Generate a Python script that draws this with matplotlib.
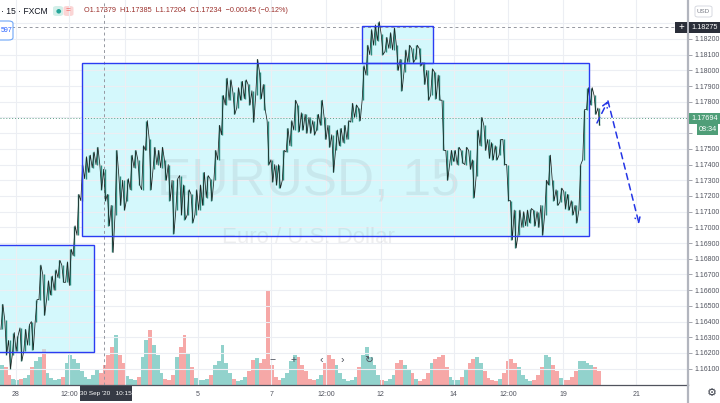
import numpy as np
import matplotlib
matplotlib.use('Agg')
import matplotlib.pyplot as plt
import matplotlib.transforms as mtransforms
from matplotlib.patches import Rectangle, FancyBboxPatch

plt.rcParams['font.family'] = ['Liberation Sans', 'DejaVu Sans']

# EURUSD 15m, FXCM. One column = 10 bars (2.5 h), high/low
BARS_PER_COL = 10

high = [1.1651, 1.1641, 1.1628, 1.1633, 1.1631, 1.1636, 1.1635, 1.1638, 1.1640, 1.1654,
        1.1676, 1.1670, 1.1666, 1.1669, 1.1673, 1.1679, 1.1676, 1.1678, 1.1686, 1.1701,
        1.1721, 1.1740, 1.1745, 1.1746, 1.1748, 1.1751, 1.1740, 1.1737, 1.1721, 1.1714,
        1.1749, 1.1733, 1.1730, 1.1731, 1.1746, 1.1749, 1.1743, 1.1752, 1.1768, 1.1756,
        1.1751, 1.1749, 1.1751, 1.1743, 1.1740, 1.1730, 1.1731, 1.1733, 1.1727, 1.1724,
        1.1721, 1.1724, 1.1727, 1.1735, 1.1733, 1.1731, 1.1749, 1.1765, 1.1784, 1.1795,
        1.1794, 1.1786, 1.1789, 1.1793, 1.1794, 1.1791, 1.1787, 1.1807, 1.1799, 1.1791,
        1.1768, 1.1743, 1.1740, 1.1740, 1.1749, 1.1763, 1.1768, 1.1781, 1.1778, 1.1773,
        1.1772, 1.1770, 1.1768, 1.1772, 1.1781, 1.1770, 1.1765, 1.1759, 1.1762, 1.1763,
        1.1765, 1.1768, 1.1779, 1.1778, 1.1776, 1.1803, 1.1816, 1.1826, 1.1829, 1.1831,
        1.1823, 1.1821, 1.1824, 1.1827, 1.1816, 1.1807, 1.1813, 1.1816, 1.1814, 1.1816,
        1.1814, 1.1805, 1.1800, 1.1801, 1.1799, 1.1797, 1.1781, 1.1749, 1.1749, 1.1749,
        1.1751, 1.1749, 1.1751, 1.1749, 1.1743, 1.1762, 1.1770, 1.1765, 1.1756, 1.1754,
        1.1752, 1.1756, 1.1756, 1.1740, 1.1717, 1.1711, 1.1711, 1.1710, 1.1711, 1.1712,
        1.1711, 1.1710, 1.1714, 1.1730, 1.1746, 1.1730, 1.1724, 1.1725, 1.1723, 1.1721,
        1.1717, 1.1714, 1.1740, 1.1775, 1.1789, 1.1789, 1.1784, 1.1776]

low = [1.1635, 1.1619, 1.1610, 1.1619, 1.1621, 1.1615, 1.1621, 1.1625, 1.1622, 1.1640,
       1.1654, 1.1644, 1.1654, 1.1657, 1.1660, 1.1668, 1.1665, 1.1665, 1.1663, 1.1682,
       1.1695, 1.1717, 1.1731, 1.1735, 1.1738, 1.1740, 1.1724, 1.1717, 1.1701, 1.1684,
       1.1708, 1.1714, 1.1711, 1.1717, 1.1724, 1.1738, 1.1727, 1.1724, 1.1749, 1.1724,
       1.1737, 1.1740, 1.1738, 1.1730, 1.1717, 1.1696, 1.1711, 1.1708, 1.1705, 1.1708,
       1.1703, 1.1708, 1.1711, 1.1714, 1.1719, 1.1717, 1.1730, 1.1743, 1.1759, 1.1778,
       1.1781, 1.1772, 1.1776, 1.1781, 1.1782, 1.1778, 1.1767, 1.1784, 1.1782, 1.1775,
       1.1740, 1.1729, 1.1727, 1.1725, 1.1730, 1.1748, 1.1752, 1.1762, 1.1761, 1.1762,
       1.1760, 1.1760, 1.1759, 1.1762, 1.1765, 1.1756, 1.1751, 1.1735, 1.1749, 1.1752,
       1.1754, 1.1756, 1.1767, 1.1770, 1.1768, 1.1781, 1.1797, 1.1810, 1.1816, 1.1819,
       1.1810, 1.1812, 1.1814, 1.1813, 1.1800, 1.1787, 1.1799, 1.1805, 1.1805, 1.1807,
       1.1803, 1.1791, 1.1781, 1.1784, 1.1782, 1.1781, 1.1749, 1.1730, 1.1740, 1.1742,
       1.1740, 1.1741, 1.1740, 1.1737, 1.1719, 1.1733, 1.1752, 1.1749, 1.1744, 1.1743,
       1.1743, 1.1746, 1.1740, 1.1717, 1.1692, 1.1687, 1.1695, 1.1700, 1.1701, 1.1703,
       1.1701, 1.1700, 1.1695, 1.1708, 1.1727, 1.1717, 1.1714, 1.1716, 1.1712, 1.1711,
       1.1708, 1.1703, 1.1711, 1.1743, 1.1775, 1.1778, 1.1772, 1.1765]

volume = [20, 18, 10, 6, 5, 6, 7, 10, 18, 24,
          28, 36, 12, 7, 5, 6, 8, 22, 30, 26,
          22, 14, 8, 6, 10, 16, 12, 20, 30, 38,
          50, 30, 22, 9, 6, 5, 8, 28, 45, 55,
          40, 30, 12, 6, 5, 10, 28, 38, 50, 32,
          18, 7, 5, 5, 6, 10, 20, 24, 40, 22,
          12, 6, 4, 5, 8, 14, 25, 27, 22, 26,
          95, 20, 8, 5, 7, 12, 24, 30, 28, 20,
          14, 6, 5, 6, 10, 22, 30, 26, 20, 12,
          6, 4, 5, 8, 18, 30, 38, 28, 20, 10,
          5, 4, 6, 10, 22, 25, 20, 16, 12, 6,
          4, 6, 12, 22, 26, 28, 30, 18, 8, 5,
          5, 8, 16, 22, 26, 28, 22, 14, 7, 5,
          4, 6, 12, 24, 26, 22, 18, 10, 6, 4,
          5, 10, 18, 30, 28, 20, 14, 7, 5, 5,
          8, 14, 24, 24, 22, 20, 18, 14]

last_price = 1.17694
cross_price = 1.18275
cross_bar = 274          # 30 Sep '20 10:15

# time axis (bar index, weekends skipped)
tick_bars = [41, 182, 329, 521, 713, 857, 1001, 1193, 1337, 1481, 1673]
tick_labels = ['28', '12:00', '', '5', '7', '12:00', '12', '14', '12:00', '19', '21']

# drawings: (bar from, bar to, price low, price high)
rectangles = [(-60, 247, 1.16206, 1.16887),
              (216, 1549, 1.16945, 1.18044),
              (952, 1139, 1.18044, 1.18282)]
arrow_bars = [1570, 1599, 1681]
arrow_prices = [1.17665, 1.17805, 1.17021]

W, H = 720, 403
fig = plt.figure(figsize=(W / 100, H / 100), dpi=100)
fig.patch.set_facecolor('white')
ax = fig.add_axes([0, 18 / H, 688 / W, 385 / H])
vax = ax.twinx()
ax.set_zorder(vax.get_zorder() + 1)
ax.patch.set_visible(False)

ax.set_xlim(0, 1809.5)
ax.set_ylim(1.15996, 1.18448)

hi = np.array(high)
lo = np.array(low)
x = np.arange(len(hi)) * BARS_PER_COL + BARS_PER_COL / 2
mid = (hi + lo) / 2
rising = np.r_[True, mid[1:] >= mid[:-1]]

# volume
vax.set_ylim(0, 385)
vax.set_axis_off()
vcol = np.where(rising, '#26a69a', '#ef5350')
vax.bar(x, volume, width=BARS_PER_COL, color=vcol, alpha=0.5, linewidth=0)

# grid; labels hidden behind the price tags are left blank
prices = np.round(np.arange(1.161, 1.1835, 0.001), 3)
hidden = [1.183, 1.177, 1.176]
ax.set_yticks(prices)
ax.set_yticklabels(['' if p in hidden else '%.5f' % p for p in prices])
ax.set_xticks(tick_bars)
ax.set_xticklabels(tick_labels)
ax.grid(color='#eceef3', linewidth=0.8, zorder=0)
ax.yaxis.tick_right()
ax.tick_params(axis='y', length=3, width=0.6, color='#9598a1', labelsize=5,
               labelcolor='#50535e', pad=2)
ax.tick_params(axis='x', length=0, labelsize=5, labelcolor='#50535e', pad=4)
for s in ['top', 'left']:
    ax.spines[s].set_visible(False)
ax.spines['right'].set_color('#b2b5be')
ax.spines['right'].set_linewidth(1.6)
ax.spines['bottom'].set_color('#50535e')
ax.spines['bottom'].set_linewidth(0.9)

# rectangles
for b0, b1, p0, p1 in rectangles:
    ax.add_patch(Rectangle((b0, p0), b1 - b0, p1 - p0, facecolor='#b8f4fa', alpha=0.6,
                           edgecolor='none', zorder=1))
    ax.add_patch(Rectangle((b0, p0), b1 - b0, p1 - p0, facecolor='none',
                           edgecolor='#2b3cf2', linewidth=1.0, zorder=6))

# watermark
ax.text(810, 1.17290, 'EURUSD, 15', fontsize=37, color='#787b86', alpha=0.12,
        ha='center', va='center', zorder=2)
ax.text(810, 1.16935, 'Euro / U.S. Dollar', fontsize=16, color='#787b86', alpha=0.12,
        ha='center', va='center', zorder=2)

# candles
zx, zy = [], []
for i in range(len(x)):
    a, b = (lo[i], hi[i]) if rising[i] else (hi[i], lo[i])
    zx += [x[i] - 2.5, x[i] + 2.5]
    zy += [a, b]
ax.vlines(x, lo, hi, color='#2e8b7e', linewidth=1.0, zorder=4)
ax.plot(zx, zy, color='#1c2321', linewidth=0.55, zorder=5)

# crosshair and price line
ax.axhline(cross_price, color='#9598a1', linestyle=(0, (3, 3)), linewidth=0.7, zorder=3)
ax.axvline(cross_bar, color='#9598a1', linestyle=(0, (3, 3)), linewidth=0.7, zorder=3)
ax.axhline(last_price, color='#5e9e86', linestyle=(0, (1, 2)), linewidth=0.7, zorder=3)

# dashed arrows
for k in range(2):
    ax.annotate('', xy=(arrow_bars[k + 1], arrow_prices[k + 1]),
                xytext=(arrow_bars[k], arrow_prices[k]),
                arrowprops=dict(arrowstyle='->', color='#2435e6', lw=1.1,
                                linestyle=(0, (4, 3)), shrinkA=0, shrinkB=0,
                                mutation_scale=9),
                zorder=7)

# labels on the price scale
tr = mtransforms.blended_transform_factory(fig.transFigure, ax.transData)
PX = 0.0000637  # price per pixel


def price_tag(price, text, fc, x0, x1, h=11, tc='white', size=5.2):
    fig.add_artist(Rectangle((x0 / W, price - h * PX / 2), (x1 - x0) / W, h * PX,
                             transform=tr, facecolor=fc, edgecolor='none', zorder=10))
    fig.text((x0 + x1) / 2 / W, price, text, transform=tr, ha='center', va='center',
             color=tc, fontsize=size, zorder=11)


price_tag(cross_price, '1.18275', '#2a2e39', 689, 720)
price_tag(cross_price, '+', '#2a2e39', 675, 687, size=7)
price_tag(last_price, '1.17694', '#4f9e78', 689, 720)
price_tag(last_price - 11 * PX, '08:34', '#4f9e78', 697, 718)

fig.add_artist(FancyBboxPatch((695 / W, 1 - 17 / H), 17 / W, 11 / H,
                              boxstyle='round,pad=0,rounding_size=0.004',
                              facecolor='white', edgecolor='#d1d4dc', linewidth=0.6,
                              transform=fig.transFigure, zorder=10))
fig.text(703.5 / W, 1 - 11.5 / H, 'USD', fontsize=4.5, color='#787b86',
         ha='center', va='center', zorder=11)

# time label of the crosshair
fig.add_artist(Rectangle((80 / W, 2 / H), 52 / W, 15 / H, facecolor='#363a45',
                         edgecolor='none', transform=fig.transFigure, zorder=10))
fig.text(106 / W, 9.5 / H, "30 Sep '20   10:15", fontsize=4.6, color='white',
         ha='center', va='center', zorder=11)

# price-axis line down to the bottom, gear icon
fig.add_artist(plt.Line2D([688 / W, 688 / W], [0, 18 / H], color='#b2b5be',
                          linewidth=1.6, transform=fig.transFigure))
fig.text(712 / W, 9.5 / H, '\u2699', fontsize=8, color='#363a45',
         ha='center', va='center', family='DejaVu Sans')

# legend row
fig.text(1 / W, 1 - 11 / H, '\u00b7 15 \u00b7 FXCM', fontsize=6.2, color='#131722',
         ha='left', va='center')
fig.add_artist(FancyBboxPatch((53 / W, 1 - 16 / H), 10 / W, 10 / H,
                              boxstyle='round,pad=0,rounding_size=0.005',
                              facecolor='#d3efe9', edgecolor='none',
                              transform=fig.transFigure))
fig.text(58 / W, 1 - 11 / H, '\u25cf', fontsize=4.5, color='#26a69a',
         ha='center', va='center', family='DejaVu Sans')
fig.add_artist(FancyBboxPatch((63.5 / W, 1 - 16 / H), 10 / W, 10 / H,
                              boxstyle='round,pad=0,rounding_size=0.005',
                              facecolor='#fbd5d5', edgecolor='none',
                              transform=fig.transFigure))
fig.text(68.5 / W, 1 - 11 / H, '=', fontsize=6, color='#ef5350',
         ha='center', va='center')
fig.text(84 / W, 1 - 11 / H,
         'O1.17379  H1.17385  L1.17204  C1.17234  \u22120.00145 (\u22120.12%)',
         fontsize=5.2, color='#9b2f2b', ha='left', va='center')

# partly hidden drawing label
fig.add_artist(FancyBboxPatch((-6 / W, 1 - 40 / H), 19 / W, 19 / H,
                              boxstyle='round,pad=0,rounding_size=0.006',
                              facecolor='white', edgecolor='#6ea6f7', linewidth=0.8,
                              transform=fig.transFigure, zorder=10))
fig.text(12 / W, 1 - 31 / H, '597', fontsize=5, color='#2962ff',
         ha='right', va='center', zorder=11)

# floating navigation buttons
for px, sym in [(273, '\u2212'), (294, '+'), (321, '\u2039'), (342, '\u203a'), (369, '\u21bb')]:
    fig.text(px / W, 1 - 360 / H, sym, fontsize=7.5, color='#4a4e59',
             ha='center', va='center', zorder=11)

plt.savefig('out.png', dpi=100)
